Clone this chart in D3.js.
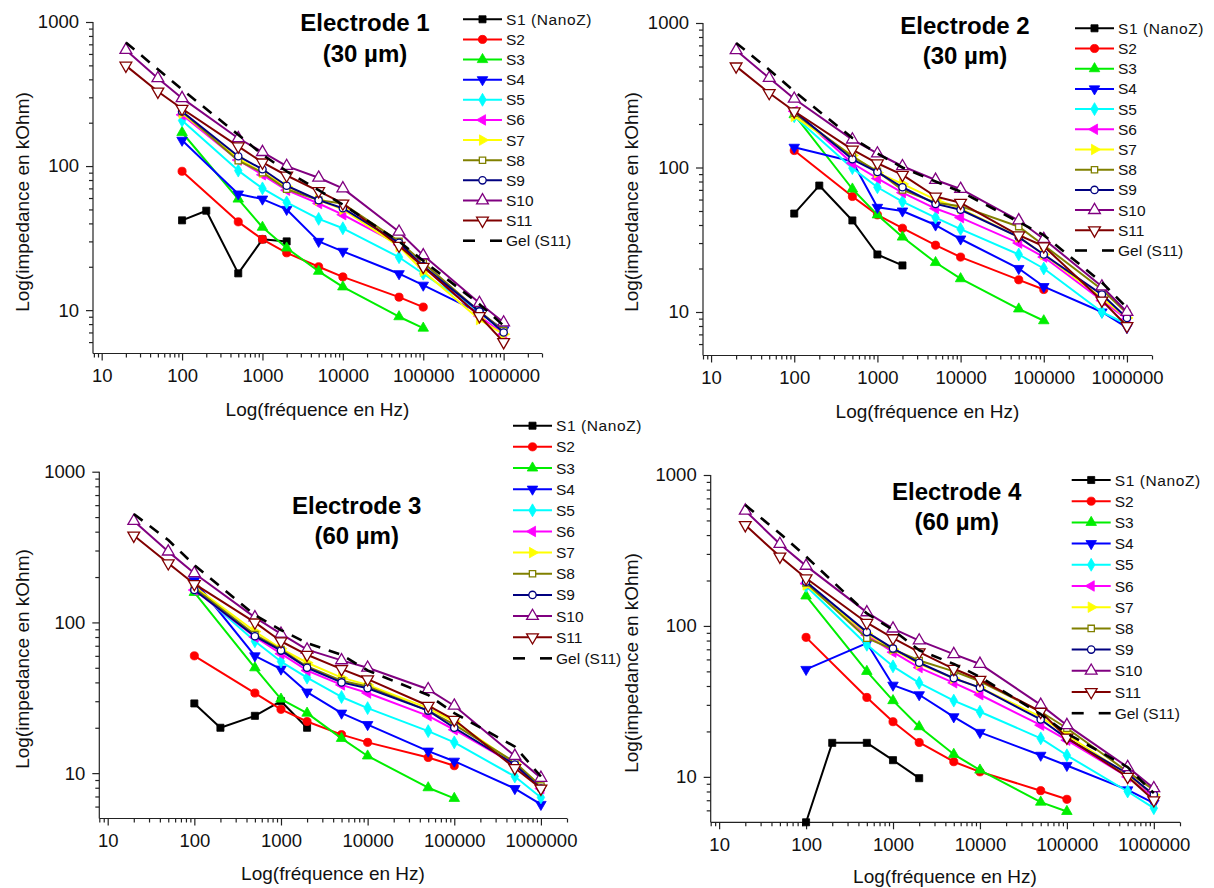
<!DOCTYPE html>
<html><head><meta charset="utf-8">
<script src="https://cdn.jsdelivr.net/npm/d3@7"></script>
<style>body{margin:0;background:#fff} svg{display:block}</style>
</head><body>
<svg id="c" width="1214" height="888"></svg>
<script>
// ---------- DATA ----------
const freqNano  = [100, 200, 500, 1000, 2000];
const freqShort = [100, 500, 1000, 2000, 5000, 10000, 50000, 100000];
const freqMid   = [100, 500, 1000, 2000, 5000, 10000, 50000, 100000, 500000, 1000000];
const freqLong  = [20, 50, 100, 500, 1000, 2000, 5000, 10000, 50000, 100000, 500000, 1000000];

const seriesNames = ["S1 (NanoZ)", "S2", "S3", "S4", "S5", "S6", "S7", "S8", "S9", "S10", "S11", "Gel (S11)"];
const panelTitles = ["Electrode 1", "Electrode 2", "Electrode 3", "Electrode 4"];
const panelSubtitles = ["(30 µm)", "(30 µm)", "(60 µm)", "(60 µm)"];
const xTickValues = [10, 100, 1000, 10000, 100000, 1000000];
const yTickValues = [10, 100, 1000];
const xAxisTitle = "Log(fréquence en Hz)";
const yAxisTitle = "Log(impedance en kOhm)";

// Electrode 1
const e1_S1  = [42, 49, 18, 31, 30];
const e1_S2  = [92, 41, 31, 25, 20, 17, 12.3, 10.5];
const e1_S3  = [171, 59, 37.6, 27, 18.6, 14.5, 9.0, 7.5];
const e1_S4  = [151, 64, 59, 50, 30, 25.6, 17.9, 14.9, 9.6, 7.3];
const e1_S5  = [207, 93, 70, 56, 43, 37, 23.3, 17.9, 9.8, 7.0];
const e1_S6  = [227, 110, 87, 68, 55, 46, 28.5, 20, 9.1, 6.8];
const e1_S7  = [233, 113, 90, 72, 58, 50, 27.7, 18.6, 8.6, 6.8];
const e1_S8  = [239, 109, 90, 69, 58, 55, 30, 21.3, 9.8, 7.2];
const e1_S9  = [239, 117, 95, 73, 58, 51, 29.3, 20.2, 9.8, 7.0];
const e1_S10 = [640, 407, 296, 156, 125, 100, 83, 70, 35, 24, 11.2, 8.2];
const e1_S11 = [498, 329, 250, 137, 106, 86, 67, 55, 28, 20, 9.1, 6.0];
const e1_Gel = [720, 470, 340, 165, 120, 92, 68, 54, 30, 22, 11, 7.8];

// Electrode 2
const e2_S1  = [48, 75, 43, 25, 21];
const e2_S2  = [131, 63, 47, 38, 29, 24, 16.7, 14.3];
const e2_S3  = [232, 71, 47, 33, 22, 17, 10.5, 8.7];
const e2_S4  = [138, 110, 53, 50, 40, 32, 20, 15, 10, 7.8];
const e2_S5  = [226, 99, 73, 58, 45, 37.5, 25, 20, 10, 8.2];
const e2_S6  = [245, 107, 84, 67, 52, 45, 30, 24, 12, 8.9];
const e2_S7  = [226, 121, 92, 77, 60, 52, 33, 25, 12.5, 9.1];
const e2_S8  = [238, 119, 94, 70, 57, 54, 39, 29, 14.3, 9.8];
const e2_S9  = [245, 114, 93, 73, 56, 51, 33, 25, 13.2, 9.1];
const e2_S10 = [647, 416, 299, 156, 125, 102, 82, 71, 43, 32, 15, 10];
const e2_S11 = [501, 328, 245, 133, 107, 89, 63, 57, 34, 28.5, 12, 8.0];
const e2_Gel = [728, 475, 337, 160, 125, 100, 80, 68, 42, 34, 16, 10.7];

// Electrode 3
const e3_S1  = [29, 20, 24, 30, 20];
const e3_S2  = [60, 34, 26.5, 22, 18, 16, 12.7, 11.2];
const e3_S3  = [158, 50, 31, 25, 17, 13, 8.0, 6.8];
const e3_S4  = [189, 60, 49, 34.5, 25, 21, 14, 12, 7.9, 6.2];
const e3_S5  = [169, 75, 55, 43, 32, 27, 19, 16, 9.5, 6.9];
const e3_S6  = [164, 80, 62, 48, 38.5, 34, 24, 19.4, 11.4, 7.9];
const e3_S7  = [173, 87, 67, 54, 43, 38.5, 27, 22, 11.6, 8.2];
const e3_S8  = [169, 83, 66, 51, 41, 37.6, 26, 21, 11.8, 8.2];
const e3_S9  = [164, 81, 65, 50, 40, 36.6, 26, 20, 11.4, 7.9];
const e3_S10 = [471, 295, 212, 108, 84, 66, 56, 50, 36, 28, 13, 9.3];
const e3_S11 = [377, 247, 180, 100, 75, 61, 49, 42, 28, 22.6, 10.8, 7.9];
const e3_Gel = [524, 352, 240, 112, 89, 73, 61, 48, 33, 25, 15, 9.5];

// Electrode 4
const e4_S1  = [5, 16.8, 16.8, 12.9, 9.8];
const e4_S2  = [84, 33.6, 23.2, 16.9, 12.6, 10.8, 8.1, 7.1];
const e4_S3  = [158, 50, 32, 21.5, 14.1, 11.1, 6.8, 5.9];
const e4_S4  = [51.5, 77, 40.5, 35, 25, 19.7, 13.9, 11.9, 8.2, 6.7];
const e4_S5  = [184, 75, 54, 42, 32, 27, 18, 13.9, 8.0, 6.2];
const e4_S6  = [191, 87, 67, 53, 42, 35, 22, 17.5, 10, 7.4];
const e4_S7  = [187, 89, 70, 56, 45, 39, 25, 19, 10.3, 7.6];
const e4_S8  = [193, 83, 70, 59, 50, 43, 27, 21, 10.8, 8.2];
const e4_S9  = [196, 91, 71, 57, 45, 39, 24, 18, 10.5, 7.6];
const e4_S10 = [580, 349, 250, 123, 96, 80, 65, 56, 30, 22, 11.6, 8.4];
const e4_S11 = [466, 288, 207, 105, 83, 67, 52, 44, 27, 18.2, 10, 7.0];
const e4_Gel = [632, 410, 288, 121, 94, 69, 56, 46, 26, 19.4, 11.6, 7.8];

// ---------- STYLE ----------
const colors = ["#000000", "#ff0000", "#00ee00", "#0000ff", "#00ffff", "#ff00ff",
                "#ffff00", "#808000", "#000080", "#800080", "#800000", "#000000"];
const markers = [
  {t: d3.symbolSquare,   r: 0,   open: false, s: 50},
  {t: d3.symbolCircle,   r: 0,   open: false, s: 52},
  {t: d3.symbolTriangle, r: 0,   open: false, s: 48},
  {t: d3.symbolTriangle, r: 180, open: false, s: 48},
  {t: d3.symbolDiamond,  r: 0,   open: false, s: 48},
  {t: d3.symbolTriangle, r: -90, open: false, s: 48},
  {t: d3.symbolTriangle, r: 90,  open: false, s: 48},
  {t: d3.symbolSquare,   r: 0,   open: true,  s: 40},
  {t: d3.symbolCircle,   r: 0,   open: true,  s: 42},
  {t: d3.symbolTriangle, r: 0,   open: true,  s: 60},
  {t: d3.symbolTriangle, r: 180, open: true,  s: 60},
  null
];
const FONT = '"Liberation Sans", Arial, Helvetica, sans-serif';

const panels = [
  {vals: [e1_S1,e1_S2,e1_S3,e1_S4,e1_S5,e1_S6,e1_S7,e1_S8,e1_S9,e1_S10,e1_S11,e1_Gel],
   xr: [93, 542], yr: [353.5, 22], xd: [7.8, 3e6],
   title: [365, 22.7, 53.3], leg: [463, 19.3, 20.13],
   xt: [317.5, 409], yt: [22, 202]},
  {vals: [e2_S1,e2_S2,e2_S3,e2_S4,e2_S5,e2_S6,e2_S7,e2_S8,e2_S9,e2_S10,e2_S11,e2_Gel],
   xr: [703, 1152], yr: [355.5, 23], xd: [8, 2e6],
   title: [965, 25, 55], leg: [1075, 28.3, 20.2],
   xt: [927.5, 411], yt: [631, 202]},
  {vals: [e3_S1,e3_S2,e3_S3,e3_S4,e3_S5,e3_S6,e3_S7,e3_S8,e3_S9,e3_S10,e3_S11,e3_Gel],
   xr: [99.3, 567], yr: [818.5, 471.7], xd: [8, 2e6],
   title: [356.7, 505, 535], leg: [513, 425.7, 21.15],
   xt: [333, 873], yt: [22, 659]},
  {vals: [e4_S1,e4_S2,e4_S3,e4_S4,e4_S5,e4_S6,e4_S7,e4_S8,e4_S9,e4_S10,e4_S11,e4_Gel],
   xr: [710.7, 1180], yr: [822.3, 475], xd: [8, 2e6],
   title: [956.7, 491.7, 521.7], leg: [1071.7, 480, 21.2],
   xt: [945, 876], yt: [631, 663]}
];
const freqOf = i => (i === 0 ? freqNano : (i <= 2 ? freqShort : (i <= 8 ? freqMid : freqLong)));

const svg = d3.select("#c");
svg.append("rect").attr("width", 1214).attr("height", 888).attr("fill", "#fff");

function sym(m) {
  return d3.symbol().type(m.t).size(m.s)();
}
function drawMarker(g, i, x, y) {
  const m = markers[i];
  if (!m) return;
  g.append("path").attr("d", sym(m))
    .attr("transform", `translate(${x},${y}) rotate(${m.r})`)
    .attr("fill", m.open ? "#fff" : colors[i])
    .attr("stroke", colors[i])
    .attr("stroke-width", m.open ? 1.3 : 0.8);
}

panels.forEach((p, pi) => {
  const g = svg.append("g");
  const x = d3.scaleLog().domain(p.xd).range(p.xr);
  const y = d3.scaleLog().domain([5, 1000]).range(p.yr);
  const bottom = p.yr[0], left = p.xr[0];

  // minor ticks
  const xMinor = [], yMinor = [];
  for (let e = 0; e <= 6; e++) for (let k = 2; k <= 9; k++) {
    const v = k * Math.pow(10, e);
    if (v >= p.xd[0] && v <= p.xd[1]) xMinor.push(v);
  }
  for (let e = 0; e <= 2; e++) for (let k = 2; k <= 9; k++) {
    const v = k * Math.pow(10, e);
    if (v > 5 && v < 1000) yMinor.push(v);
  }
  const xAxis = d3.axisBottom(x).tickValues(xTickValues).tickFormat(d3.format("d")).tickSize(7).tickPadding(5);
  const yAxis = d3.axisLeft(y).tickValues(yTickValues).tickFormat(d3.format("d")).tickSize(7).tickPadding(5);
  const gx = g.append("g").attr("transform", `translate(0,${bottom})`).call(xAxis);
  const gy = g.append("g").attr("transform", `translate(${left},0)`).call(yAxis);
  g.append("g").attr("transform", `translate(0,${bottom})`)
    .call(d3.axisBottom(x).tickValues(xMinor).tickFormat("").tickSize(4))
    .select(".domain").remove();
  g.append("g").attr("transform", `translate(${left},0)`)
    .call(d3.axisLeft(y).tickValues(yMinor).tickFormat("").tickSize(4))
    .select(".domain").remove();
  gx.select(".domain").attr("d", `M${p.xr[0]},0H${p.xr[1]}`);
  gy.select(".domain").attr("d", `M0,${p.yr[0]}V${p.yr[1]}`);
  g.selectAll(".domain, .tick line").attr("stroke", "#222").attr("stroke-width", 1.2);
  g.selectAll(".tick text").attr("font-family", FONT).attr("font-size", 18.5).attr("fill", "#111");
  gx.selectAll(".tick text").attr("dy", "0.9em");
  gy.selectAll(".tick text").attr("dx", "-2");

  // axis titles
  g.append("text").attr("x", p.xt[0]).attr("y", p.xt[1]).attr("text-anchor", "middle")
    .attr("dominant-baseline", "central").attr("font-family", FONT).attr("font-size", 19).attr("fill", "#111")
    .text(xAxisTitle);
  g.append("text").attr("transform", `translate(${p.yt[0]},${p.yt[1]}) rotate(-90)`).attr("text-anchor", "middle")
    .attr("dominant-baseline", "central").attr("font-family", FONT).attr("font-size", 19).attr("fill", "#111")
    .text(yAxisTitle);

  // titles
  g.append("text").attr("x", p.title[0]).attr("y", p.title[1]).attr("text-anchor", "middle")
    .attr("dominant-baseline", "central").attr("font-family", FONT).attr("font-weight", "bold")
    .attr("font-size", 24).text(panelTitles[pi]);
  g.append("text").attr("x", p.title[0]).attr("y", p.title[2]).attr("text-anchor", "middle")
    .attr("dominant-baseline", "central").attr("font-family", FONT).attr("font-weight", "bold")
    .attr("font-size", 24).text(panelSubtitles[pi]);

  // series
  const line = d3.line().x(d => x(d[0])).y(d => y(d[1]));
  p.vals.forEach((vals, si) => {
    const fr = freqOf(si);
    const pts = vals.map((v, k) => [fr[k], v]);
    const path = g.append("path").attr("d", line(pts)).attr("fill", "none")
      .attr("stroke", colors[si]).attr("stroke-width", si === 11 ? 2.6 : 2)
      .attr("stroke-linejoin", "round");
    if (si === 11) path.attr("stroke-dasharray", "11,9");
    pts.forEach(d => drawMarker(g, si, x(d[0]), y(d[1])));
  });

  // legend
  const [lx, ly, ld] = p.leg;
  seriesNames.forEach((name, si) => {
    const yy = ly + si * ld;
    if (si === 11) {
      g.append("line").attr("x1", lx).attr("x2", lx + 12).attr("y1", yy).attr("y2", yy)
        .attr("stroke", "#000").attr("stroke-width", 2.6);
      g.append("line").attr("x1", lx + 27).attr("x2", lx + 39).attr("y1", yy).attr("y2", yy)
        .attr("stroke", "#000").attr("stroke-width", 2.6);
    } else {
      g.append("line").attr("x1", lx).attr("x2", lx + 39).attr("y1", yy).attr("y2", yy)
        .attr("stroke", colors[si]).attr("stroke-width", 2);
      drawMarker(g, si, lx + 19.5, yy);
    }
    g.append("text").attr("x", lx + 43).attr("y", yy).attr("dominant-baseline", "central")
      .attr("font-family", FONT).attr("font-size", 15.5).attr("fill", "#111")
      .attr("letter-spacing", si === 0 ? 0.6 : 0).text(name);
  });
});
</script>
</body></html>
